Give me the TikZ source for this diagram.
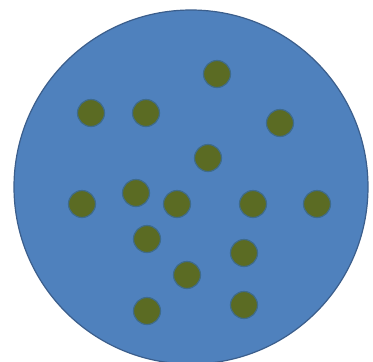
\documentclass[tikz,border=0pt]{standalone}
\usepackage{tikz}
\definecolor{dishblue}{HTML}{4F81BD}
\definecolor{dishedge}{HTML}{3B5E8C}
\definecolor{cellgreen}{HTML}{5B6B23}
\definecolor{celledge}{HTML}{3F6B8A}
\tikzset{cell/.style={circle,draw=celledge,line width=1.2pt,fill=cellgreen,minimum size=27pt,inner sep=0pt}}
\begin{document}
\begin{tikzpicture}[x=1pt,y=-1pt]
	\useasboundingbox (0,0) rectangle (373,362);
	\clip (0,0) rectangle (373,362);
	\fill[white] (0,0) rectangle (373,362);
	% dish
	\draw[fill=dishblue,draw=dishedge,line width=1.2pt] (191,187) circle[radius=177pt];
	% cells
	\node[cell] (c1) at (217,74) {};
	\node[cell] (c2) at (91,113) {};
	\node[cell] (c3) at (146,113) {};
	\node[cell] (c4) at (280,123) {};
	\node[cell] (c5) at (208,158) {};
	\node[cell] (c6) at (82,204) {};
	\node[cell] (c7) at (136,193) {};
	\node[cell] (c8) at (177,204) {};
	\node[cell] (c9) at (253,204) {};
	\node[cell] (c10) at (317,204) {};
	\node[cell] (c11) at (147,239) {};
	\node[cell] (c12) at (244,253) {};
	\node[cell] (c13) at (187,275) {};
	\node[cell] (c14) at (147,311) {};
	\node[cell] (c15) at (244,305) {};
\end{tikzpicture}
\end{document}
